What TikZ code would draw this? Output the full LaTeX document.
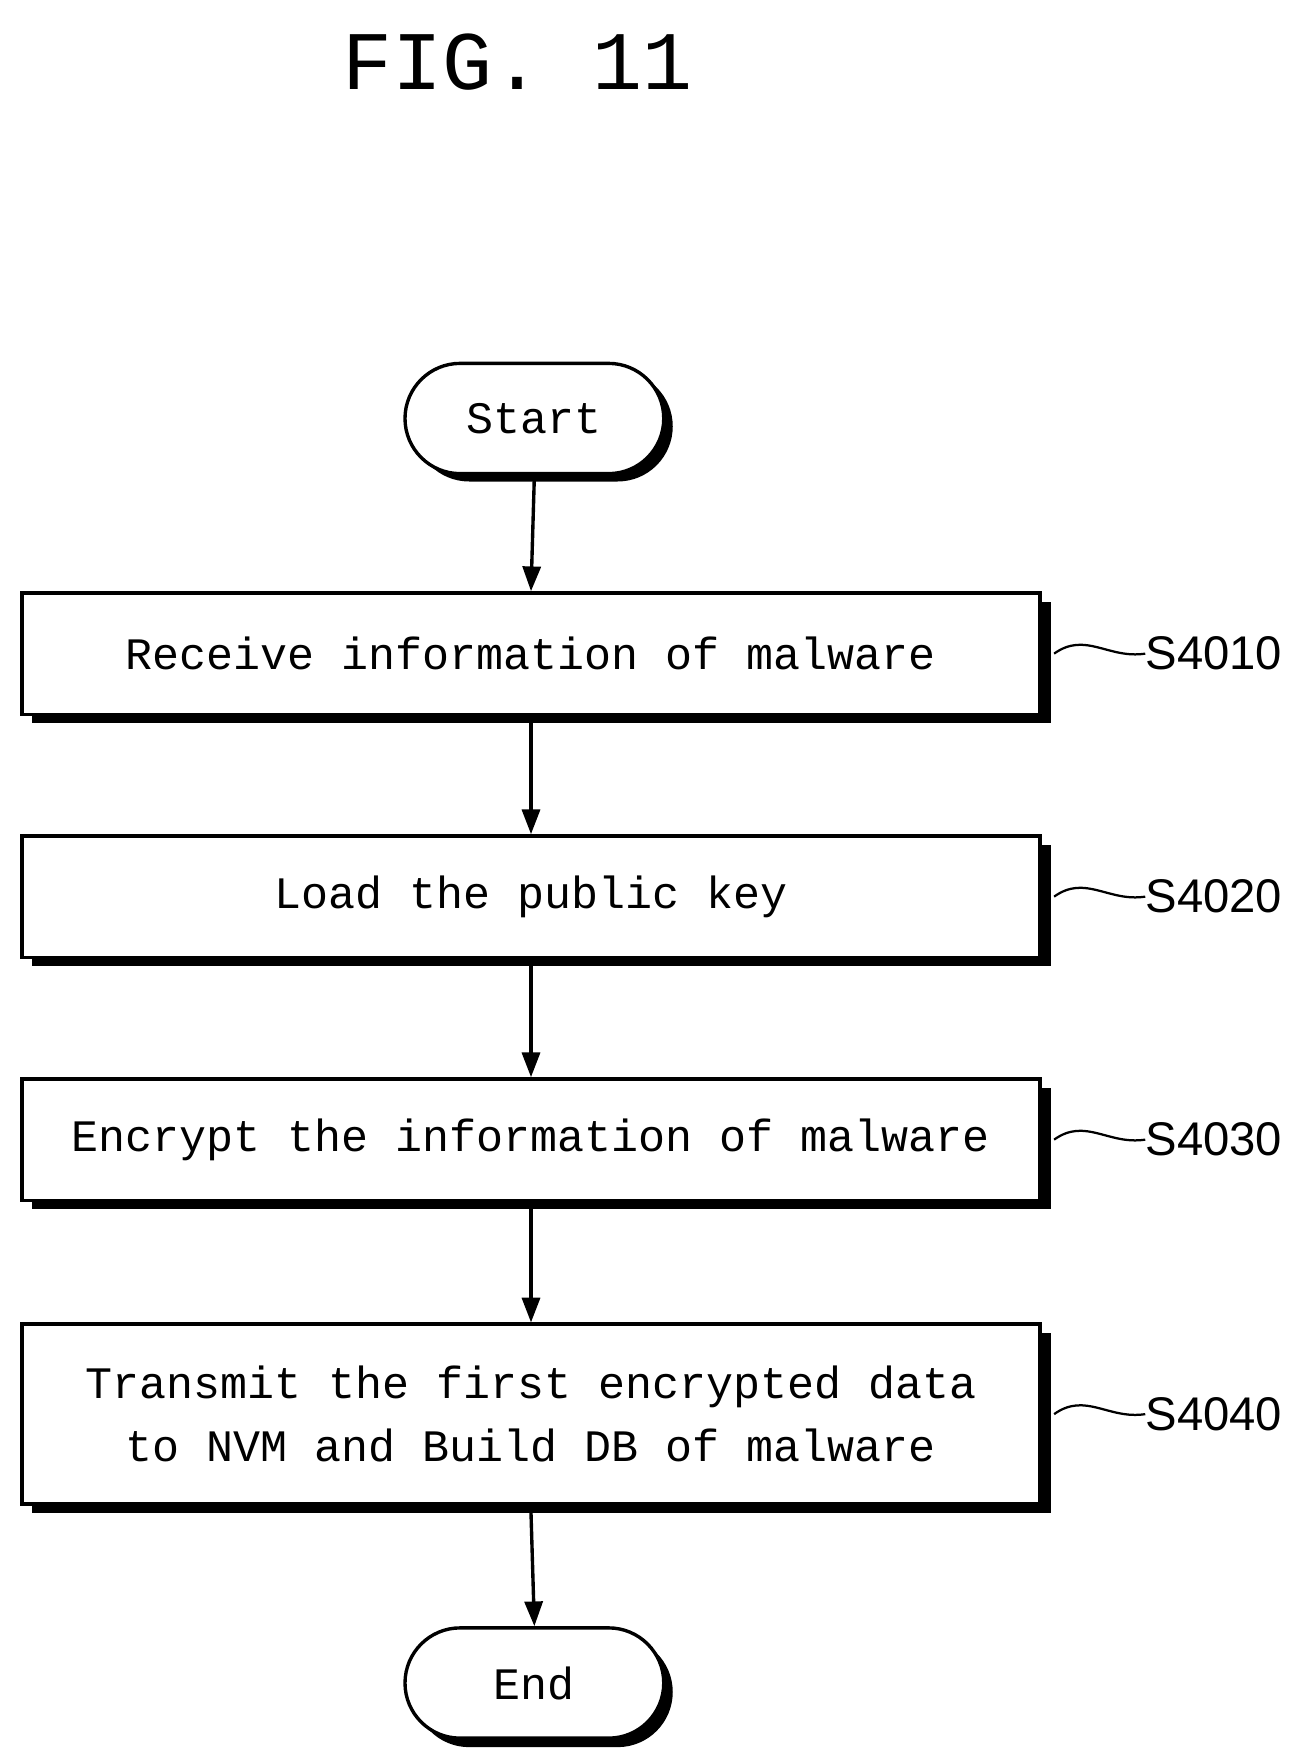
\documentclass[tikz,border=0pt]{standalone}
\usepackage{fontspec}
\setmainfont{Liberation Mono}
\newfontfamily\lsans{Liberation Sans}
\usetikzlibrary{arrows.meta}
\begin{document}
\begin{tikzpicture}[x=1pt,y=-1pt,
  box/.style={draw,line width=3pt,fill=white,minimum width=905pt,minimum height=108pt,align=center,font=\fontsize{40}{56}\selectfont,inner sep=0pt},
  term/.style={draw,line width=3pt,fill=white,rounded corners=49pt,minimum width=230pt,minimum height=98pt,font=\fontsize{40}{48}\selectfont,inner sep=0pt},
  arr/.style={line width=3pt,-{Triangle[length=22pt,width=16pt]}},
  lab/.style={font=\lsans\fontsize{42}{48}\selectfont,anchor=west,inner sep=0pt},
  wav/.style={line width=2pt}]
\useasboundingbox (0,0) rectangle (1160,1568);
\node[font=\fontsize{74}{80}\selectfont] (title) at (460,55) {FIG. 11};
\foreach \n/\cy/\h in {b1/581/108,b2/797/108,b3/1013/108,b4/1257/160}{
  \fill (20+8,\cy-\h/2+8) rectangle (925+9,\cy+\h/2+8);
}
\fill[rounded corners=49pt] (368,330) rectangle (598,428);
\fill[rounded corners=49pt] (368,1455) rectangle (598,1553);
\node[term] (start) at (475,372) {Start};
\node[term] (end) at (475,1496) {End};
\node[box] (b1) at (472,581) {Receive information of malware};
\node[box] (b2) at (472,797) {Load the public key};
\node[box] (b3) at (472,1013) {Encrypt the information of malware};
\node[box,minimum height=160pt] (b4) at (472,1257) {Transmit the first encrypted data\\to NVM and Build DB of malware};
\draw[arr] (start.south) -- (b1.north);
\draw[arr] (b1.south |- 0,643) -- (b2.north);
\draw[arr] (b2.south |- 0,859) -- (b3.north);
\draw[arr] (b3.south |- 0,1075) -- (b4.north);
\draw[arr] (b4.south |- 0,1345) -- (end.north);
\foreach \n/\y/\t in {l1/581/S4010,l2/797/S4020,l3/1013/S4030,l4/1257/S4040}{
  \coordinate (\n a) at (937,\y);
  \node[lab] (\n) at (1018,\y) {\t};
  \draw[wav] (\n a) .. controls (965,\y-20) and (985,\y+5) .. (\n.west);
}
\end{tikzpicture}
\end{document}
